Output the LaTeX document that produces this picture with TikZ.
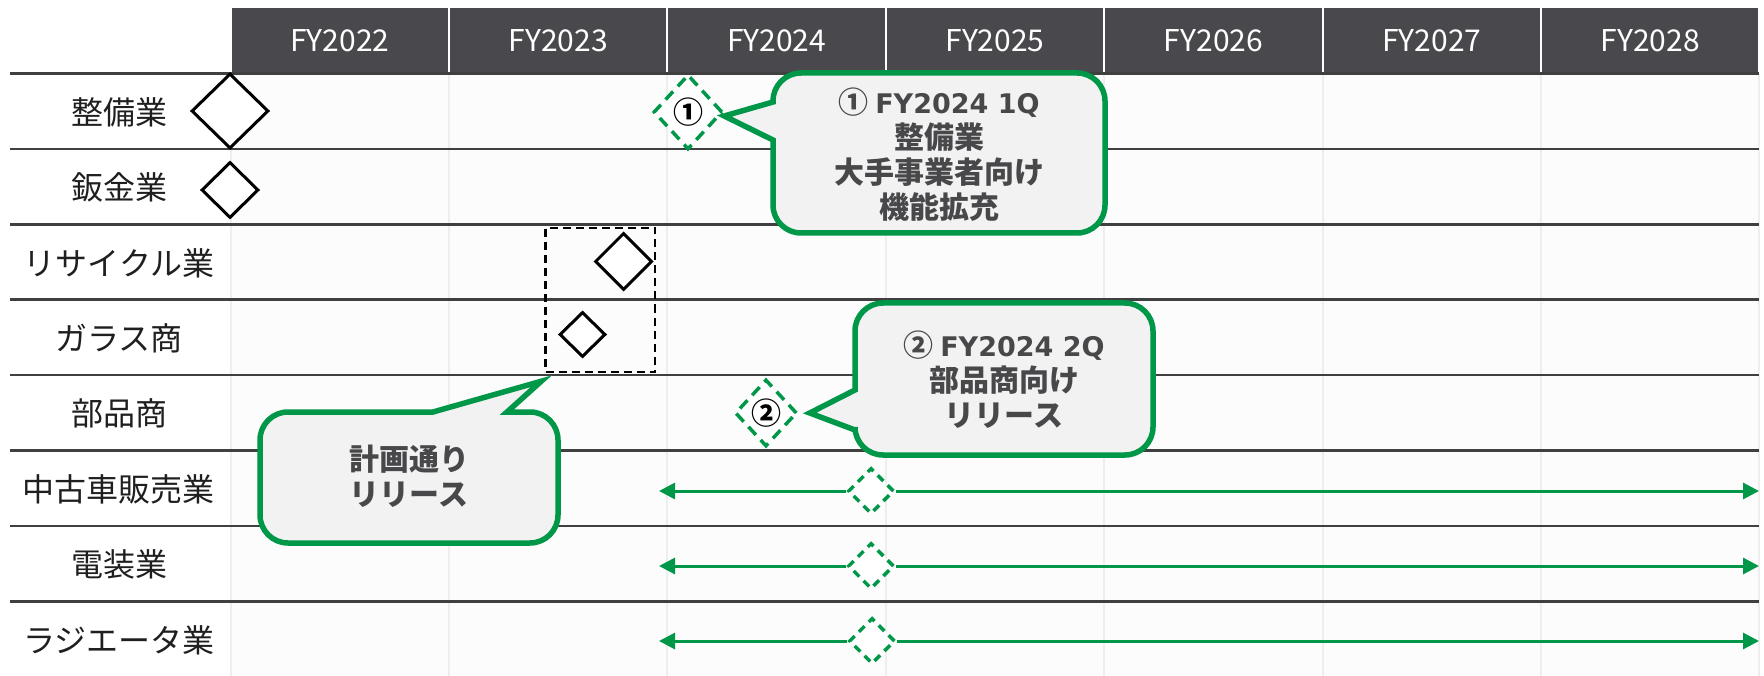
\documentclass[tikz,border=0pt]{standalone}
\usepackage{fontspec}
\setmainfont{Noto Sans CJK JP}
\newfontfamily\latb{DejaVu Sans}
\usetikzlibrary{shapes.geometric,arrows.meta}
\definecolor{hdr}{RGB}{73,72,77}
\definecolor{gr}{RGB}{0,152,72}
\definecolor{rulec}{RGB}{64,64,64}
\definecolor{cfill}{RGB}{242,242,242}
\definecolor{ctext}{RGB}{72,72,75}
\definecolor{bodybg}{RGB}{252,252,252}
\definecolor{vgrid}{RGB}{238,238,238}
\tikzset{
  hcell/.style={rectangle,fill=hdr,draw=white,line width=2pt,minimum width=218.4pt,minimum height=66.5pt,inner sep=0pt,text=white,font=\fontsize{30}{36}\selectfont},
  rowlab/.style={font=\fontsize{32}{38}\selectfont,text=black!88,inner sep=0pt},
  bdia/.style={diamond,draw=black,fill=white,line width=3pt,inner sep=0pt},
  gdia/.style={diamond,draw=gr,fill=white,line width=3.5pt,dash pattern=on 11pt off 7pt,inner sep=0pt,font=\bfseries\fontsize{30}{32}\selectfont},
  callout/.style={draw=gr,fill=cfill,line width=5.5pt,line join=miter},
  ctxt/.style={align=center,text=ctext,font=\bfseries\fontsize{30}{35}\selectfont,inner sep=0pt},
  garrow/.style={draw=gr,line width=3pt,-{Triangle[length=16pt,width=16pt]}},
  rowrule/.style={draw=rulec,line width=2.5pt},
}
\begin{document}
\begin{tikzpicture}[x=1pt,y=-1pt]
\useasboundingbox (0,0) rectangle (1764,676);
% body background and faint grid
\fill[bodybg] (230.6,73.5) rectangle (1759.4,676);
\foreach \k in {0,...,7} \draw[vgrid,line width=2pt] ({230.6+218.4*\k},73.5) -- ({230.6+218.4*\k},676);
% header
\foreach \k in {0,...,6} {
  \pgfmathtruncatemacro\yr{2022+\k}
  \node[hcell] (h\k) at ({230.6+218.4*\k+109.2},40.25) {FY\yr};
}
% row rules
\foreach \k in {0,...,7} \draw[rowrule] (10,{73.5+75.4*\k}) -- (1759.4,{73.5+75.4*\k});
% row labels
\foreach \t [count=\i from 0] in {整備業,鈑金業,リサイクル業,ガラス商,部品商,中古車販売業,電装業,ラジエータ業}
  \node[rowlab] (lab\i) at (119,{112.2+75.4*\i}) {\t};
% black milestones
\node[bdia,minimum width=77pt,minimum height=75pt] (dA) at (230,111) {};
\node[bdia,minimum width=57pt,minimum height=56pt] (dB) at (230,190) {};
\node[draw=black,line width=2.5pt,dash pattern=on 8pt off 5pt,minimum width=109.5pt,minimum height=144pt,inner sep=0pt] (grp) at (600.25,300) {};
\node[bdia,minimum width=57pt,minimum height=57pt] (dC) at (623.5,261.5) {};
\node[bdia,minimum width=46pt,minimum height=45pt] (dD) at (582.5,334.5) {};
% arrows
\coordinate (l3) at (659,491); \coordinate (r3) at (1759,491);
\coordinate (l4) at (659,566); \coordinate (r4) at (1759,566);
\coordinate (l5) at (659,641); \coordinate (r5) at (1759,641);
\node[gdia,minimum width=46pt,minimum height=46pt,dash pattern=on 8pt off 6pt] (g3) at (871,491) {};
\node[gdia,minimum width=46pt,minimum height=46pt,dash pattern=on 8pt off 6pt] (g4) at (871,566) {};
\node[gdia,minimum width=46pt,minimum height=46pt,dash pattern=on 8pt off 6pt] (g5) at (872,641) {};
\draw[garrow] (g3.west) -- (l3); \draw[garrow] (g3.east) -- (r3);
\draw[garrow] (g4.west) -- (l4); \draw[garrow] (g4.east) -- (r4);
\draw[garrow] (g5.west) -- (l5); \draw[garrow] (g5.east) -- (r5);
% green milestones with numbers
\node[gdia,minimum width=69pt,minimum height=75pt] (g1) at (688,112) {①};
\node[gdia,minimum width=62pt,minimum height=67pt] (g2) at (766,413) {②};
% callouts
\draw[callout] (939,73) [rounded corners=28pt] -- (1105,73) -- (1105,233) -- (773,233) [sharp corners] -- (773,140) -- ([yshift=-4pt]g1.east) -- (773,102) [rounded corners=28pt] -- (773,73) -- cycle;
\draw[callout] (1004,303) [rounded corners=28pt] -- (1153,303) -- (1153,455) -- (855,455) [sharp corners] -- (855,430) -- ([xshift=11pt]g2.east) -- (855,390) [rounded corners=28pt] -- (855,303) -- cycle;
\draw[callout] (409,543) [rounded corners=28pt] -- (260,543) -- (260,412) [sharp corners] -- (433,412) -- ([shift={(-3pt,-8pt)}]grp.south west) -- (507,412) [rounded corners=28pt] -- (558,412) -- (558,543) -- cycle;
\node[ctxt] (c1) at (939,155) {① {\latb\fontsize{27}{35}\selectfont FY2024 1Q}\\整備業\\大手事業者向け\\機能拡充};
\node[ctxt] (c2) at (1004,380) {② {\latb\fontsize{27}{35}\selectfont FY2024 2Q}\\部品商向け\\リリース};
\node[ctxt] (c3) at (409,476) {計画通り\\リリース};
\end{tikzpicture}
\end{document}
